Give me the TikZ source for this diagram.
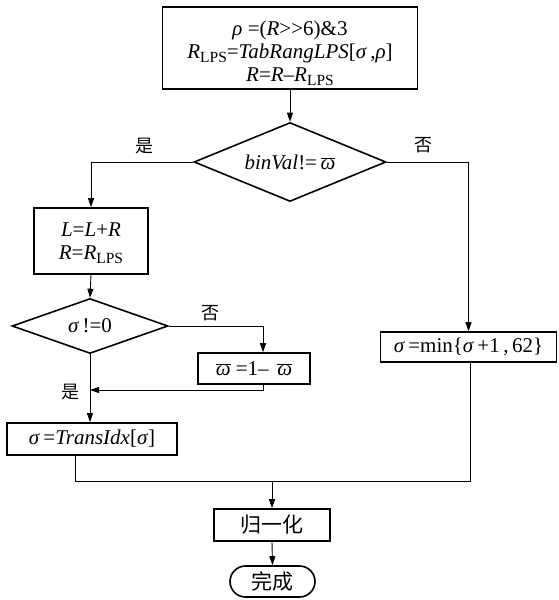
\documentclass[tikz,border=0pt]{standalone}
\usepackage{fontspec}
\setmainfont{Liberation Serif}
\newfontfamily\cjk{Noto Sans CJK SC}
\usetikzlibrary{shapes.geometric,shapes.misc,arrows.meta,calc}
\newcommand\ob[1]{\ensuremath{\overline{\mbox{#1}}}}
\newcommand\lps{\raisebox{-4pt}[0pt][0pt]{\fontsize{15.5}{15.5}\selectfont LPS}}
\newcommand\sg{\textit{σ}}
\begin{document}
\begin{tikzpicture}[x=1pt,y=-1pt,
  every node/.style={font=\fontsize{21}{23}\selectfont, inner sep=0pt},
  box/.style={draw, line width=1.6pt, rectangle, align=center},
  dia/.style={draw, line width=1.6pt, diamond, aspect=2.4},
  term/.style={draw, line width=1.6pt, rounded rectangle},
  conn/.style={line width=0.9pt},
  arr/.style={conn, -{Triangle[length=9pt,width=6pt]}},
  lab/.style={font=\cjk\fontsize{18}{18}\selectfont}
]
\useasboundingbox[fill=white] (0,0) rectangle (558,600);

\node[box, minimum width=255pt, minimum height=82pt] (top) at (290,48)
  {\rule{0pt}{21pt}\textit{ρ} =(\textit{R}>\kern0pt>6)\&3\\
   \textit{R}\lps=\textit{TabRangLPS}[\sg\,,\textit{ρ}]\\
   \textit{R}=\textit{R}–\textit{R}\lps};
\node[dia, minimum width=192pt, minimum height=79pt] (d1) at (290,162)
  {\textit{binVal}!=\,\ob{\textit{ω}}};
\node[box, minimum width=114pt, minimum height=66pt] (lr) at (91,241)
  {\textit{L}=\textit{L}+\textit{R}\\ \textit{R}=\textit{R}\lps};
\node[dia, minimum width=156pt, minimum height=55pt] (d2) at (90,326)
  {\sg\,!=0};
\node[box, minimum width=112pt, minimum height=31pt] (om) at (254,368.5)
  {\ob{\textit{ω}} =1– \,\ob{\textit{ω}}};
\node[box, minimum width=170pt, minimum height=32pt] (sgb) at (92,439)
  {\sg\,=\textit{TransIdx}[\sg]};
\node[box, minimum width=176pt, minimum height=30pt] (mn) at (468.5,347)
  {\sg\,=min\{\sg\,+1\,,\,62\}};
\node[box, minimum width=116pt, minimum height=32pt] (nm) at (272,525)
  {\cjk 归一化};
\node[term, minimum width=85pt, minimum height=31pt] (dn) at (272.5,581.5)
  {\cjk 完成};

\coordinate (oa) at (263,0);
\coordinate (sx) at (75,0);
\coordinate (j) at (90,390);
\coordinate (m) at (272,481);
\coordinate (mr) at (470,481);

\draw[arr] (top.south) -- (d1.north);
\draw[arr] (d1.west) -| (lr.north);
\draw[arr] (d1.east) -| (mn.north);
\draw[arr] (lr.south) -- (d2.north);
\draw[arr] (d2.east) -| (om.north -| oa);
\draw[arr] (om.south -| oa) |- (j);
\draw[arr] (d2.south) -- (d2.south |- sgb.north);
\draw[conn] (sgb.south -| sx) |- (mr) -- (mn.south -| mr);
\draw[arr] (m) -- (nm.north);
\draw[arr] (nm.south) -- (dn.north);

\node[lab] (y1) at (144,146) {是};
\node[lab] (n1) at (423,145) {否};
\node[lab] (n2) at (210,313) {否};
\node[lab] (y2) at (70,392) {是};
\end{tikzpicture}
\end{document}
